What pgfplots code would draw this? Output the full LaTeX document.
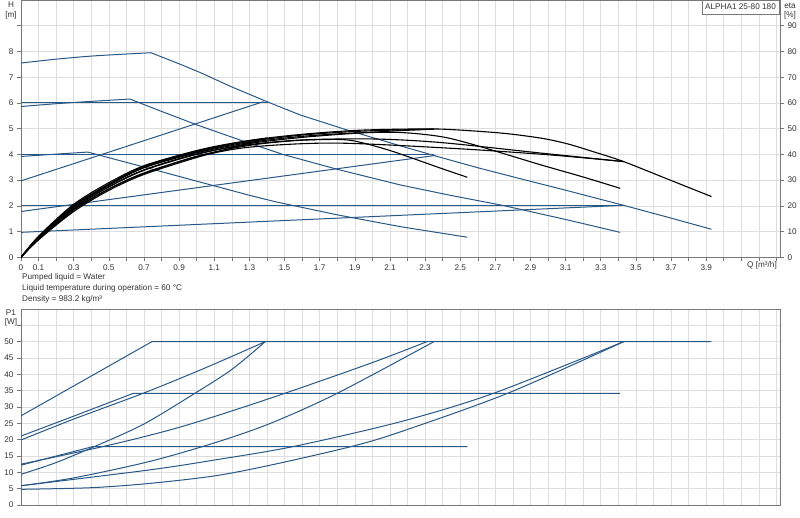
\documentclass[border=0pt]{standalone}
\usepackage{pgfplots}
\pgfplotsset{compat=1.18}
\usepackage{fontspec}
\setmainfont{Liberation Sans}

\definecolor{curveblue}{RGB}{40,88,135}
\definecolor{txt}{RGB}{51,51,51}
\definecolor{gridc}{RGB}{222,222,222}
\definecolor{framec}{RGB}{120,120,120}
\newcommand{\lab}{\fontsize{8.2}{9.5}\selectfont}

\pgfplotsset{
  pumpchart/.style={
    scale only axis, width=759pt, xmin=0, xmax=4.32, anchor=south west,
    tick label style={font=\lab, text=txt},
    /pgf/number format/assume math mode=true,
    xticklabel style={/pgf/number format/fixed, /pgf/number format/precision=1},
    grid=both,
    major grid style={gridc, line width=0.6pt},
    minor grid style={gridc, line width=0.6pt},
    axis line style={framec, line width=0.6pt},
    tick style={framec, line width=0.6pt},
    tick align=outside,
    major tick length=4pt, minor tick length=4pt,
    xtick={0,0.1,0.3,0.5,0.7,0.9,1.1,1.3,1.5,1.7,1.9,2.1,2.3,2.5,2.7,2.9,3.1,3.3,3.5,3.7,3.9},
    minor xtick={0.2,0.4,0.6,0.8,1.0,1.2,1.4,1.6,1.8,2.0,2.2,2.4,2.6,2.8,3.0,3.2,3.4,3.6,3.8,4.0,4.1,4.2,4.3},
    no markers,
  },
  bl/.style={curveblue, line width=1pt},
  bk/.style={black, line width=1.1pt, smooth},
}

\begin{document}
\begin{tikzpicture}
\path[use as bounding box] (0pt,0pt) rectangle (800pt,517pt);

% H(Q) curves
\begin{axis}[pumpchart, at={(21pt,259.7pt)}, height=257.3pt, tick pos=left,
  ymin=0, ymax=10, ytick={0,1,2,3,4,5,6,7,8,9},
  yticklabels={0,1,2,3,4,5,6,7,8,}]
% speed III
\addplot[bl, smooth] coordinates {(0,7.55) (0.2,7.70) (0.4,7.82) (0.6,7.90) (0.74,7.95)};
\addplot[bl] coordinates {(0.74,7.95) (0.9,7.52) (1.02,7.18) (1.2,6.62) (1.41,6.02) (1.59,5.53) (1.85,4.96) (2.16,4.33) (2.4,3.86) (2.6,3.48) (2.85,3.04) (3.07,2.66) (3.25,2.34) (3.43,2.02) (3.68,1.56) (3.93,1.09)};
% speed II
\addplot[bl, smooth] coordinates {(0,5.86) (0.2,5.97) (0.4,6.06) (0.62,6.15)};
\addplot[bl] coordinates {(0.62,6.15) (0.8,5.67) (1.0,5.15) (1.25,4.55) (1.49,4.0) (1.8,3.42) (2.16,2.81) (2.45,2.40) (2.74,2.02) (3.1,1.47) (3.41,0.97)};
% speed I
\addplot[bl, smooth] coordinates {(0,3.92) (0.2,4.01) (0.38,4.09)};
\addplot[bl] coordinates {(0.38,4.09) (0.55,3.78) (0.75,3.42) (0.95,3.05) (1.115,2.75) (1.3,2.41) (1.447,2.16) (1.8,1.65) (2.16,1.19) (2.54,0.78)};
% constant pressure
\addplot[bl] coordinates {(0,6) (1.41,6)};
\addplot[bl] coordinates {(0,4) (2.35,4)};
\addplot[bl] coordinates {(0,2) (3.43,2)};
% proportional pressure
\addplot[bl] coordinates {(0,2.97) (1.38,6.05)};
\addplot[bl] coordinates {(0,1.78) (2.36,3.96)};
\addplot[bl] coordinates {(0,0.97) (3.43,2.02)};
\end{axis}

% eta(Q) curves
\begin{axis}[pumpchart, at={(21pt,259.7pt)}, height=257.3pt,
  ymin=0, ymax=100, grid=none, axis x line=none, axis y line*=right,
  ytick pos=right, yticklabel pos=right,
  ytick={0,10,20,30,40,50,60,70,80,90}, minor xtick={}, xtick={}]
\addplot[bk] coordinates {(0,0) (0.1,8) (0.2,14.5) (0.3,20.3) (0.5,28.5) (0.7,35.3) (1.0,41.2) (1.3,45.4) (1.6,47.8) (1.9,49.3) (2.16,49.8) (2.4,49.8) (2.73,48.3) (2.96,46.3) (3.11,44.1) (3.25,41.2) (3.43,37.2) (3.68,30.4) (3.93,23.6)};
\addplot[bk] coordinates {(0,0) (0.1,7.8) (0.3,19.8) (0.5,28) (0.7,34.8) (1.0,40.6) (1.3,44.6) (1.6,47) (1.9,48.3) (2.16,48.5) (2.39,46.9) (2.58,43.7) (2.96,35.9) (3.2,31.2) (3.41,26.8)};
\addplot[bk] coordinates {(0,0) (0.1,7) (0.3,18.3) (0.5,26.5) (0.7,32.5) (1.0,39.3) (1.3,43.5) (1.55,45.3) (1.75,45.8) (1.89,45.3) (2.1,41.5) (2.39,34.6) (2.54,31.1)};
\addplot[bk] coordinates {(0,0) (0.1,7.5) (0.3,19.3) (0.5,27.5) (0.7,34) (1.0,40.2) (1.3,43.8) (1.6,45.6) (2.0,46) (2.39,44.6) (2.96,40.5) (3.43,37.2)};
\addplot[bk] coordinates {(0,0) (0.1,7.2) (0.3,18.6) (0.5,26.6) (0.7,32.8) (1.0,39) (1.3,42.8) (1.78,44.4) (2.44,42.4) (3.01,39.8) (3.43,37.2)};
\addplot[bk] coordinates {(0,0) (0.1,7.7) (0.3,19.8) (0.5,28.2) (0.7,34.9) (1.0,40.9) (1.3,45) (1.6,47.5) (1.9,48.9) (2.15,49.5) (2.35,49.8)};
\addplot[bk] coordinates {(0,0) (0.1,7.4) (0.3,19) (0.5,27.3) (0.7,33.8) (1.0,40) (1.3,44.2) (1.6,46.6) (1.9,48.2) (2.15,49.2) (2.35,49.8)};
\addplot[bk] coordinates {(0,0) (0.1,8.2) (0.3,20.6) (0.5,29) (0.7,35.6) (1.0,41.5) (1.2,44.3) (1.40,46.3)};
\addplot[bk] coordinates {(0,0) (0.1,6.8) (0.3,17.8) (0.5,26) (0.7,32.2) (1.0,38.8) (1.2,42.5) (1.40,46.3)};
\end{axis}

% P1(Q) curves
\begin{axis}[pumpchart, at={(21pt,12pt)}, height=196pt, tick pos=left,
  ymin=0, ymax=60, ytick={0,5,10,15,20,25,30,35,40,45,50}, minor ytick={55},
  xticklabels={}, xtick style={draw=none}]
\addplot[bl] coordinates {(0,27.3) (0.745,50) (3.93,50)};
\addplot[bl] coordinates {(0,21.1) (0.3,27.2) (0.64,34.2) (3.41,34.2)};
\addplot[bl] coordinates {(0,12.2) (0.41,17.9) (2.54,17.9)};
\addplot[bl, smooth] coordinates {(0,19.9) (0.3,26.3) (0.7,34.3) (1.05,42) (1.39,50)};
\addplot[bl, smooth] coordinates {(0,9.4) (0.2,13.0) (0.44,18.4) (0.7,24.8) (0.99,34.2) (1.2,41.5) (1.39,50)};
\addplot[bl, smooth] coordinates {(0,12.5) (0.5,18.3) (0.915,24.0) (1.42,32.7) (1.99,43.4) (2.31,50)};
\addplot[bl, smooth] coordinates {(0,5.9) (0.3,8.3) (0.73,13.3) (1.1,19.0) (1.42,25.0) (1.8,34.2) (2.35,50)};
\addplot[bl, smooth] coordinates {(0,5.9) (0.726,10.7) (1.105,13.8) (1.55,17.9) (2.16,25.5) (2.69,34.2) (3.43,50)};
\addplot[bl, smooth] coordinates {(0,4.8) (0.4,5.3) (0.73,6.6) (1.1,8.9) (1.42,12.2) (1.88,17.9) (2.16,22.4) (2.77,34.2) (3.43,50)};
\end{axis}

\begin{scope}[every node/.style={font=\lab, text=txt, inner sep=0pt}]
\node at (11pt,512pt) {H};
\node at (11pt,502pt) {[m]};
\node at (790pt,511pt) {eta};
\node at (790pt,502pt) {[\%]};
\node at (762pt,251.3pt) {Q [m³/h]};
\node[draw=framec, fill=white, minimum width=77pt, minimum height=14pt] at (740.5pt,510pt) {ALPHA1 25-80 180};
\node[anchor=west] at (22pt,239.7pt) {Pumped liquid = Water};
\node[anchor=west] at (22pt,228.2pt) {Liquid temperature during operation = 60 °C};
\node[anchor=west] at (22pt,217.2pt) {Density = 983.2 kg/m³};
\node at (11pt,204.3pt) {P1};
\node at (11pt,194.7pt) {[W]};
\end{scope}
\end{tikzpicture}
\end{document}
